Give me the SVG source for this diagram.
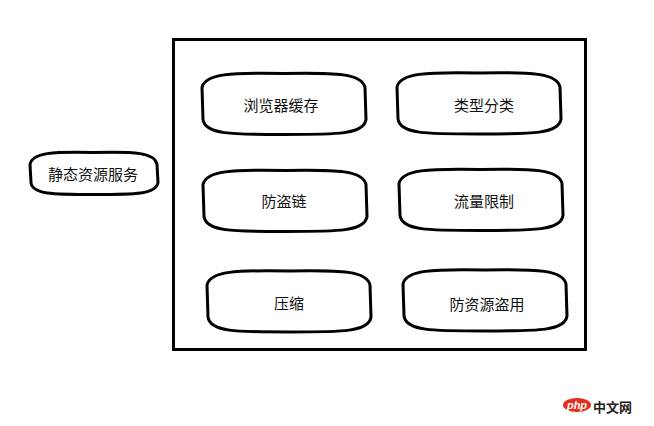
<svg xmlns="http://www.w3.org/2000/svg" width="654" height="426" viewBox="0 0 654 426">
<style>
.shape{fill:#fff;stroke:#000;stroke-width:3;stroke-linejoin:round}
.lbl{font-family:"Noto Sans CJK SC","Microsoft YaHei",sans-serif;font-size:15px;fill:#111;text-anchor:middle;dominant-baseline:central}
</style>
<defs>
<path id="pill" d="M82,0 C135,-1 160,0 163,14 L164,46 C162,61 135,61 82,61 C29,61 3,61 1,46 L0,14 C3,0 29,-1 82,0 Z"/>
<path id="pillS" d="M64,0 C105,-1 125,0 127,12 L128,30 C126,42 105,42 64,42 C23,42 2,42 1,30 L0,12 C2,0 23,-1 64,0 Z"/>
</defs>
<rect width="654" height="426" fill="#fff"/>
<g id="connectors"></g>
<g id="container">
<rect x="173.5" y="39.5" width="412" height="310" fill="none" stroke="#000" stroke-width="3"/>
</g>
<g id="static-service">
<use href="#pillS" class="shape" transform="translate(30,152.5)"/>
<text class="lbl" x="93" y="173">静态资源服务</text>
</g>
<g id="browser-cache">
<use href="#pill" class="shape" transform="translate(202,73.5)"/>
<text class="lbl" x="281" y="104">浏览器缓存</text>
</g>
<g id="type-classify">
<use href="#pill" class="shape" transform="translate(397,73)"/>
<text class="lbl" x="484" y="104">类型分类</text>
</g>
<g id="anti-leech">
<use href="#pill" class="shape" transform="translate(203,170.5)"/>
<text class="lbl" x="284" y="200">防盗链</text>
</g>
<g id="rate-limit">
<use href="#pill" class="shape" transform="translate(399,169.5)"/>
<text class="lbl" x="484" y="200">流量限制</text>
</g>
<g id="compress">
<use href="#pill" class="shape" transform="translate(207,271)"/>
<text class="lbl" x="289" y="302">压缩</text>
</g>
<g id="anti-misuse">
<use href="#pill" class="shape" transform="translate(403,270)"/>
<text class="lbl" x="487" y="303">防资源盗用</text>
</g>
<g id="watermark">
<ellipse cx="577" cy="405" rx="14" ry="7" fill="#e52e1d"/>
<text x="577" y="405" font-family="'Liberation Sans',sans-serif" font-size="11" font-style="italic" font-weight="bold" fill="#fff" text-anchor="middle" dominant-baseline="central">php</text>
<text x="593" y="406" font-family="'Noto Sans CJK SC',sans-serif" font-size="13" font-weight="bold" fill="#222" dominant-baseline="central">中文网</text>
</g>
</svg>
